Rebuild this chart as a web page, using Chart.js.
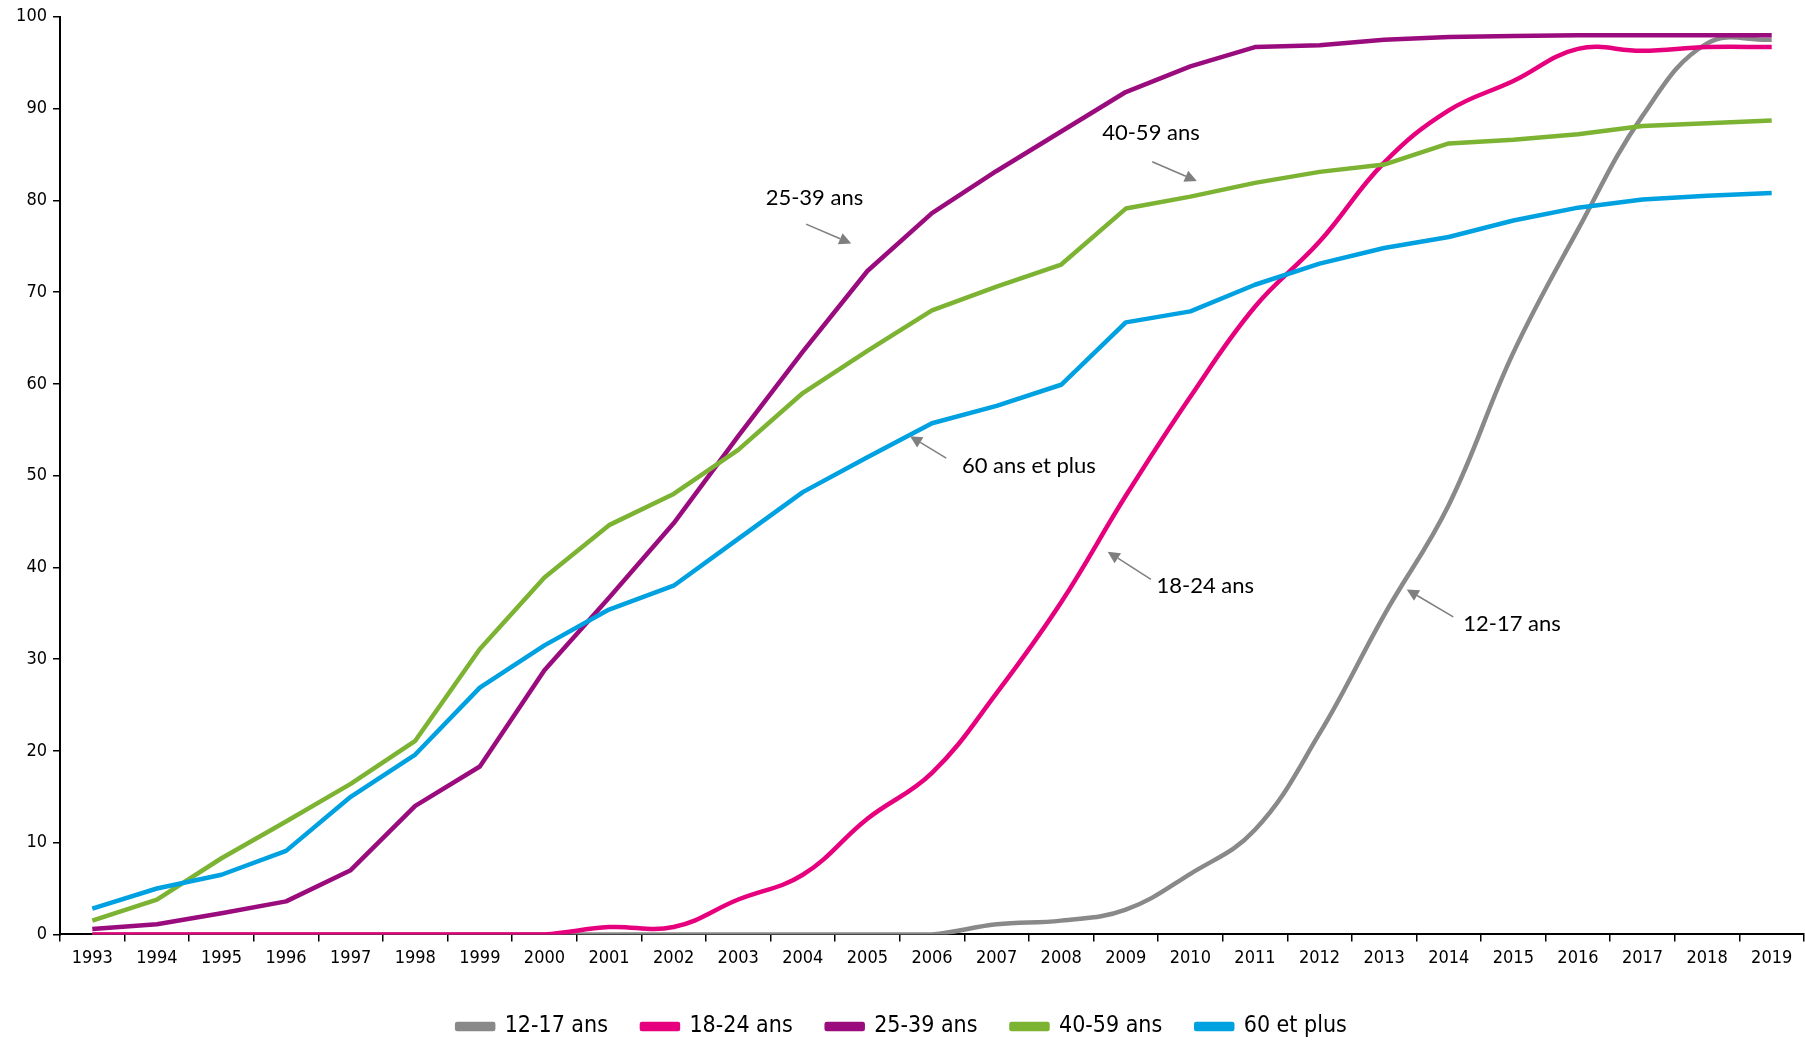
<!DOCTYPE html>
<html>
<head>
<meta charset="utf-8">
<script src="https://cdn.jsdelivr.net/npm/chart.js@4.4.1/dist/chart.umd.min.js"></script>
<style>
  html, body { margin: 0; padding: 0; background: #fff; }
  #wrap { width: 1805px; height: 1042px; position: relative; }
</style>
</head>
<body>
<div id="wrap"><canvas id="usageChart"></canvas></div>
<script>
// Années
const years = ['1993', '1994', '1995', '1996', '1997', '1998', '1999', '2000', '2001', '2002',
  '2003', '2004', '2005', '2006', '2007', '2008', '2009', '2010', '2011', '2012',
  '2013', '2014', '2015', '2016', '2017', '2018', '2019'];

// % par tranche d'âge
const ages12_17 = [0, 0, 0, 0, 0, 0, 0, 0, 0, 0, 0, 0, 0, 0, 1.1, 1.5, 2.7, 6.6, 11.4, 21.9,
  34.8, 46.8, 63.4, 76.8, 89.2, 97.1, 97.5];
const ages18_24 = [0, 0, 0, 0, 0, 0, 0, 0, 0.8, 0.8, 3.8, 6.5, 12.6, 17.6, 26.3, 36.2, 47.8, 58.6,
  68.4, 75.5, 84.1, 89.8, 93.0, 96.5, 96.3, 96.7, 96.7];
const ages25_39 = [0.6, 1.1, 2.3, 3.6, 7.0, 14.0, 18.3, 28.8, 36.7, 44.8, 54.3, 63.5, 72.3, 78.6,
  83.2, 87.5, 91.8, 94.6, 96.7, 96.9, 97.5, 97.8, 97.9, 98.0, 98.0, 98.0, 98.0];
const ages40_59 = [1.5, 3.8, 8.3, 12.3, 16.4, 21.1, 31.1, 38.9, 44.6, 48.0, 52.8, 59.0, 63.6, 68.0,
  70.6, 73.0, 79.1, 80.4, 81.9, 83.1, 83.9, 86.2, 86.6, 87.2, 88.1, 88.4, 88.7];
const ages60plus = [2.8, 5.0, 6.5, 9.1, 15.0, 19.6, 26.9, 31.5, 35.4, 38.0, 43.1, 48.2, 52.0, 55.7,
  57.6, 59.9, 66.7, 67.9, 70.8, 73.1, 74.8, 76.0, 77.8, 79.2, 80.1, 80.5, 80.8];

const yTicks = [0, 10, 20, 30, 40, 50, 60, 70, 80, 90, 100];

// étiquettes fléchées (x = index d'année, y = valeur)
const notes = [
  { text: '25-39 ans', x: 11.18, y: 80.3, from: [11.05, 77.4], to: [11.75, 75.3] },
  { text: '40-59 ans', x: 16.39, y: 87.4, from: [16.41, 84.2], to: [17.1, 82.1] },
  { text: '60 ans et plus', x: 14.5, y: 51.1, from: [13.22, 51.9], to: [12.66, 54.3] },
  { text: '18-24 ans', x: 17.23, y: 38.0, from: [16.39, 38.7], to: [15.72, 41.7] },
  { text: '12-17 ans', x: 21.98, y: 33.8, from: [21.07, 34.6], to: [20.35, 37.6] }
];

const notesPlugin = {
  id: 'notes',
  afterDatasetsDraw(chart) {
    const { ctx, scales: { x, y } } = chart;
    ctx.save();
    notes.forEach(n => {
      ctx.font = '22px Lato, "Open Sans", sans-serif';
      ctx.fillStyle = '#000';
      ctx.textAlign = 'center';
      ctx.textBaseline = 'middle';
      ctx.fillText(n.text, x.getPixelForValue(n.x), y.getPixelForValue(n.y));

      const x1 = x.getPixelForValue(n.from[0]), y1 = y.getPixelForValue(n.from[1]);
      const x2 = x.getPixelForValue(n.to[0]), y2 = y.getPixelForValue(n.to[1]);
      const ang = Math.atan2(y2 - y1, x2 - x1);
      const head = 12, half = 6;
      ctx.strokeStyle = '#7f7f7f';
      ctx.fillStyle = '#7f7f7f';
      ctx.lineWidth = 1.5;
      ctx.beginPath();
      ctx.moveTo(x1, y1);
      ctx.lineTo(x2 - Math.cos(ang) * head, y2 - Math.sin(ang) * head);
      ctx.stroke();
      ctx.beginPath();
      ctx.moveTo(x2, y2);
      ctx.lineTo(x2 - Math.cos(ang) * head - Math.sin(ang) * half, y2 - Math.sin(ang) * head + Math.cos(ang) * half);
      ctx.lineTo(x2 - Math.cos(ang) * head + Math.sin(ang) * half, y2 - Math.sin(ang) * head - Math.cos(ang) * half);
      ctx.closePath();
      ctx.fill();
    });
    ctx.restore();
  }
};

function series(label, data, color, smooth, order) {
  return {
    label: label,
    data: data,
    borderColor: color,
    backgroundColor: color,
    borderWidth: 4.5,
    pointRadius: 0,
    tension: smooth ? 0.4 : 0,
    borderJoinStyle: 'round',
    order: order
  };
}

const ctx = document.getElementById('usageChart').getContext('2d');
const usageChart = new Chart(ctx, {
  type: 'line',
  data: {
    labels: years,
    datasets: [
      series('12-17 ans', ages12_17, '#898989', true, 5),
      series('18-24 ans', ages18_24, '#e6007e', true, 4),
      series('25-39 ans', ages25_39, '#9a0c7e', false, 3),
      series('40-59 ans', ages40_59, '#7db333', false, 2),
      series('60 et plus', ages60plus, '#00a1e1', false, 1)
    ]
  },
  options: {
    responsive: true,
    maintainAspectRatio: false,
    animation: false,
    layout: { padding: { top: 16, right: 1, bottom: -6, left: 0 } },
    plugins: {
      tooltip: { enabled: false },
      legend: {
        position: 'bottom',
        labels: {
          boxWidth: 36,
          boxHeight: 5,
          padding: 34,
          color: '#000',
          font: { family: '"DejaVu Sans Condensed", "DejaVu Sans", sans-serif', size: 23 },
          sort: (a, b) => a.datasetIndex - b.datasetIndex
        }
      }
    },
    scales: {
      x: {
        offset: true,
        afterFit: (scale) => { scale.height += 6; },
        grid: {
          display: true,
          offset: true,
          drawOnChartArea: false,
          drawTicks: true,
          tickLength: 7,
          color: '#000',
          lineWidth: 1.5
        },
        border: { color: '#000', width: 2 },
        ticks: {
          color: '#000',
          padding: 6,
          maxRotation: 0,
          autoSkip: false,
          font: { family: '"DejaVu Sans Condensed", "DejaVu Sans", sans-serif', size: 18 }
        }
      },
      y: {
        min: 0,
        max: 100,
        afterBuildTicks: (scale) => { scale.ticks = yTicks.map(v => ({ value: v })); },
        afterFit: (scale) => { scale.width = 60; },
        grid: {
          display: true,
          drawOnChartArea: false,
          drawTicks: true,
          tickLength: 7,
          color: '#000',
          lineWidth: 1.5
        },
        border: { color: '#000', width: 2 },
        ticks: {
          color: '#000',
          padding: 6,
          font: { family: '"DejaVu Sans Condensed", "DejaVu Sans", sans-serif', size: 18 }
        }
      }
    }
  },
  plugins: [notesPlugin]
});
</script>
</body>
</html>
